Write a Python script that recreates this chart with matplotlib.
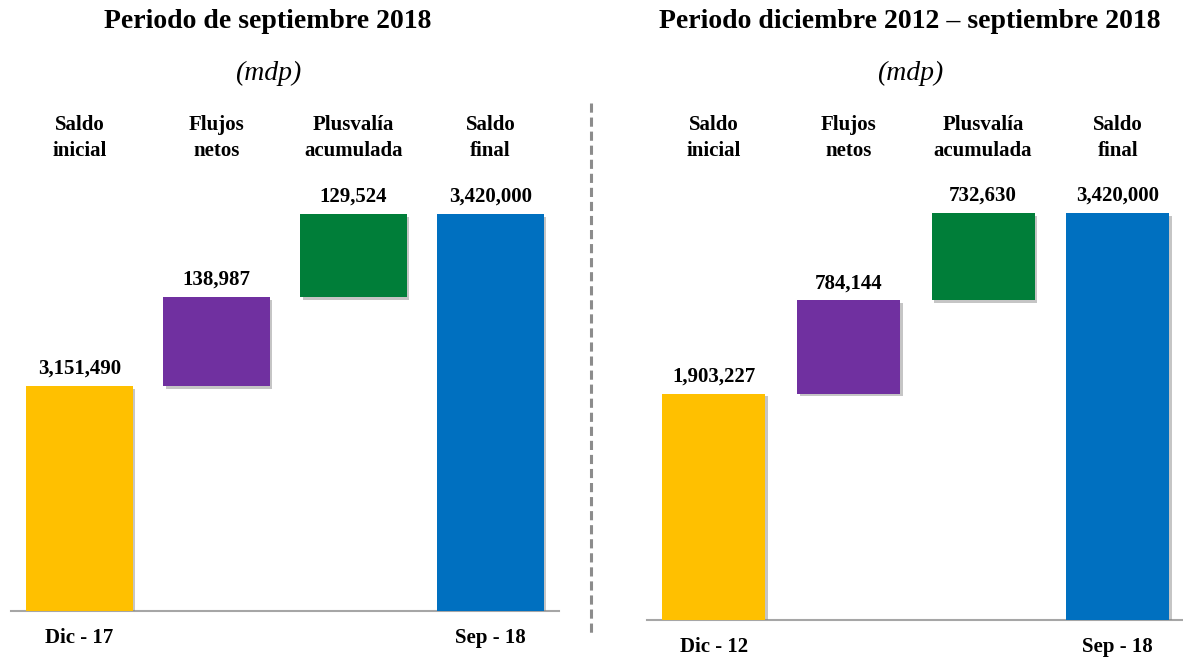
import matplotlib
matplotlib.use("Agg")
import matplotlib.pyplot as plt
import matplotlib.transforms as mtransforms
import matplotlib.patheffects as pe
from matplotlib.lines import Line2D

# data
categories = ["Saldo\ninicial", "Flujos\nnetos", "Plusvalía\nacumulada", "Saldo\nfinal"]
colors = ["#FFC000", "#7030A0", "#007E39", "#0070C0"]

left_title = "Periodo de septiembre 2018"
left_values = [3151490, 138987, 129524, 3420000]
left_periods = ["Dic - 17", "", "", "Sep - 18"]

right_title = "Periodo diciembre 2012 – septiembre 2018"
right_values = [1903227, 784144, 732630, 3420000]
right_periods = ["Dic - 12", "", "", "Sep - 18"]

W, H = 1183, 658
plt.rcParams['font.family'] = ['Liberation Serif', 'DejaVu Serif']

fig = plt.figure(figsize=(W / 100, H / 100), dpi=100)


def px_box(x0, x1, ytop, ybot):
    return [x0 / W, 1 - ybot / H, (x1 - x0) / W, (ybot - ytop) / H]


def waterfall(ax, values, periods, ymin, bar_w):
    # bottoms for the waterfall: first and last from axis base, middle ones stacked
    bottoms = [ymin]
    running = values[0]
    for v in values[1:-1]:
        bottoms.append(running)
        running += v
    bottoms.append(ymin)
    heights = [values[0] - ymin] + values[1:-1] + [values[-1] - ymin]
    xs = list(range(len(values)))
    bars = ax.bar(xs, heights, bottom=bottoms, width=bar_w, color=colors, zorder=3)
    for b in bars:
        b.set_path_effects([pe.SimplePatchShadow(offset=(2, -2), shadow_rgbFace='#808080', alpha=0.45),
                            pe.Normal()])
    for x, b, v in zip(xs, bars, values):
        top = b.get_y() + b.get_height()
        ax.annotate(f"{v:,}", (x, top), xytext=(0, 5), textcoords="offset points",
                    ha="center", va="bottom", fontsize=15, fontweight="bold")
    ax.set_xlim(-0.5, 3.5)
    ax.set_ylim(ymin, values[-1])
    for s in ["top", "right", "left"]:
        ax.spines[s].set_visible(False)
    ax.spines["bottom"].set_color("#A6A6A6")
    ax.spines["bottom"].set_linewidth(1.5)
    ax.set_yticks([])
    ax.set_xticks(xs, periods, fontsize=15, fontweight="bold")
    ax.tick_params(axis="x", length=0, pad=12)
    # category headers
    trans = mtransforms.blended_transform_factory(ax.transData, fig.transFigure)
    for x, c in zip(xs, categories):
        ax.text(x, 1 - 138 / H, c, transform=trans, ha="center", va="center",
                fontsize=15, fontweight="bold", linespacing=1.45)


ax1 = fig.add_axes(px_box(11, 559, 214, 611))
waterfall(ax1, left_values, left_periods, 2800000, 0.774)

ax2 = fig.add_axes(px_box(646.5, 1185, 213, 620))
waterfall(ax2, right_values, right_periods, 0, 0.765)
ax2.set_clip_on(False)

# titles
fig.text(268 / W, 1 - 22 / H, left_title, ha="center", va="center", fontsize=20, fontweight="bold")
fig.text(268 / W, 1 - 73 / H, "(mdp)", ha="center", va="center", fontsize=20, style="italic")
fig.text(910 / W, 1 - 22 / H, right_title, ha="center", va="center", fontsize=20, fontweight="bold")
fig.text(910 / W, 1 - 73 / H, "(mdp)", ha="center", va="center", fontsize=20, style="italic")

# dashed divider
fig.add_artist(Line2D([591 / W, 591 / W], [1 - 103 / H, 1 - 633 / H], transform=fig.transFigure,
                      color="#8C8C8C", linewidth=2.2, linestyle=(0, (3, 1.6))))

fig.savefig("out.png", dpi=100)
